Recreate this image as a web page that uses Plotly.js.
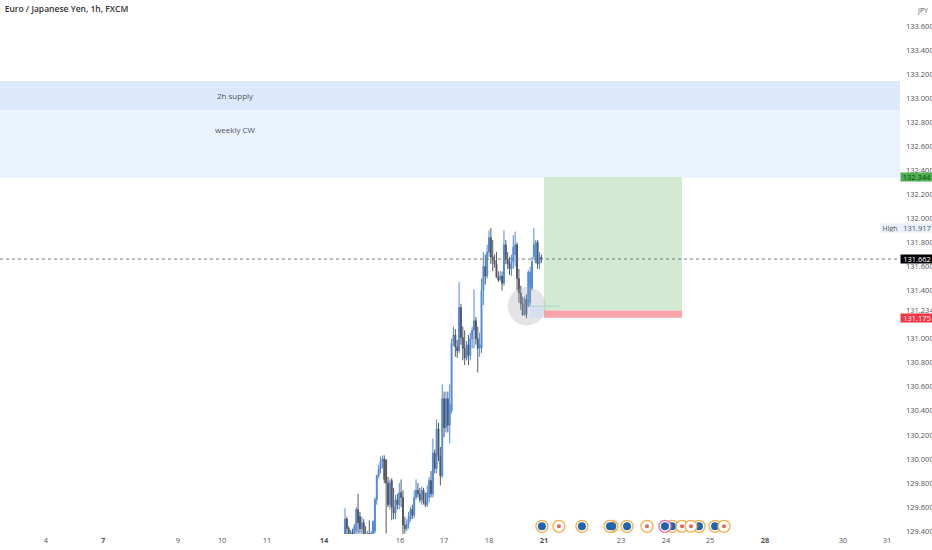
<!DOCTYPE html>
<html>
<head>
<meta charset="utf-8">
<script src="https://cdn.plot.ly/plotly-3.0.1.min.js"></script>
<style>html,body{margin:0;padding:0;background:#fff}#chart{width:932px;height:550px}</style>
</head>
<body>
<div id="chart"></div>
<script>
// Hourly bars, numbered from the first visible one
const opens = [129.36,129.50,129.42,129.37,129.39,129.36,129.40,129.58,129.52,129.42,129.47,129.38,129.37,129.38,129.36,129.38,129.40,129.66,129.86,129.92,129.98,130.00,129.99,129.80,129.62,129.82,129.60,129.55,129.66,129.62,129.72,129.68,129.45,129.42,129.46,129.50,129.58,129.53,129.68,129.74,129.71,129.66,129.74,129.64,129.62,129.68,129.82,129.71,130.05,129.92,130.25,130.02,129.86,130.50,130.26,130.50,130.28,130.40,130.96,131.03,130.93,130.90,131.26,131.01,130.92,130.84,130.95,130.86,131.00,131.07,131.15,131.00,130.92,130.92,131.40,131.60,131.52,131.72,131.84,131.68,131.65,131.62,131.51,131.49,131.52,131.46,131.78,131.66,131.62,131.58,131.64,131.70,131.78,131.50,131.38,131.29,131.20,131.33,131.27,131.30,131.42,131.68,131.63,131.80,131.62,131.68];
const highs = [129.59,129.52,129.44,129.41,129.42,129.46,129.60,129.71,129.56,129.52,129.50,129.44,129.40,129.49,129.40,129.49,129.68,129.87,129.95,130.02,130.03,130.03,130.00,129.85,129.83,129.84,129.76,129.70,129.71,129.80,129.83,129.74,129.52,129.50,129.56,129.60,129.62,129.74,129.83,129.80,129.76,129.77,129.76,129.72,129.78,129.85,129.90,130.17,130.08,130.33,130.30,130.10,130.62,130.56,130.56,130.56,130.62,131.00,131.10,131.08,130.99,131.47,131.29,131.10,131.07,130.98,131.03,131.05,131.10,131.41,131.18,131.10,131.05,131.50,131.72,131.70,131.78,131.90,131.92,131.82,131.70,131.72,131.56,131.56,131.56,131.90,131.82,131.72,131.68,131.70,131.86,131.89,131.80,131.58,131.44,131.35,131.35,131.37,131.57,131.60,131.68,131.92,131.82,131.82,131.72,131.70];
const lows = [129.30,129.34,129.30,129.30,129.30,129.31,129.33,129.38,129.38,129.36,129.34,129.33,129.33,129.33,129.33,129.34,129.38,129.62,129.84,129.88,129.92,129.80,129.38,129.60,129.58,129.49,129.50,129.50,129.58,129.58,129.60,129.37,129.38,129.40,129.42,129.48,129.50,129.51,129.66,129.68,129.64,129.62,129.62,129.60,129.60,129.64,129.68,129.68,129.88,129.88,129.98,129.78,129.84,130.18,130.22,130.22,130.13,130.38,130.94,130.85,130.84,130.88,130.95,130.82,130.78,130.82,130.78,130.82,130.92,130.92,130.95,130.72,130.85,130.88,131.28,131.45,131.50,131.68,131.62,131.56,131.59,131.51,131.47,131.48,131.40,131.44,131.62,131.58,131.53,131.52,131.58,131.60,131.40,131.30,131.24,131.19,131.19,131.17,131.26,131.27,131.40,131.66,131.63,131.58,131.58,131.63];
const closes = [129.50,129.42,129.37,129.39,129.36,129.44,129.58,129.47,129.42,129.47,129.38,129.37,129.38,129.36,129.38,129.48,129.66,129.86,129.92,129.98,130.00,129.83,129.80,129.62,129.80,129.60,129.55,129.66,129.62,129.72,129.68,129.45,129.42,129.46,129.52,129.58,129.53,129.68,129.74,129.71,129.66,129.74,129.64,129.62,129.72,129.82,129.71,130.05,129.92,130.25,130.02,129.86,130.50,130.26,130.50,130.28,130.45,130.96,131.03,130.93,130.90,131.26,131.01,130.92,130.84,130.95,130.86,131.00,131.07,131.15,131.00,130.92,130.95,131.40,131.60,131.52,131.72,131.84,131.68,131.65,131.62,131.51,131.49,131.52,131.46,131.78,131.66,131.62,131.58,131.64,131.76,131.78,131.50,131.38,131.29,131.20,131.33,131.20,131.55,131.55,131.64,131.78,131.80,131.62,131.68,131.66];
const barIndex = opens.map((_, i) => i);

const dayTicks = [-184,-160,-129.4,-89.3,-65.8,-41.7,-11.2,29.4,52.9,77,106.4,147.6,171.7,195.2,224.6,266.3,289.8];
const dayLabels = ['3','4','<b>7</b>','9','10','11','<b>14</b>','16','17','18','<b>21</b>','23','24','25','<b>28</b>','30','31'];

const priceTicks = [133.8,133.6,133.4,133.2,133.0,132.8,132.6,132.4,132.2,132.0,131.8,131.6,131.4,131.234,131.0,130.8,130.6,130.4,130.2,130.0,129.8,129.6,129.4];
const priceLabels = priceTicks.map(v => v.toFixed(3));

const eventRow = 129.44;
const blueEvents = [105.3,126.7,142.8,141.7,150.8,174.9,189.3,197.9];
const pinkEvents = [171.1];
const redEvents = [114.4,161.5,180.2,185,202.7];

const lastPrice = 131.662, highPrice = 131.917;
const target = 132.344, entry = 131.234, stop = 131.175;

const ringTrace = (xs, ring, core, coreSize) => [
  {type:'scatter',mode:'markers',x:xs,y:xs.map(()=>eventRow),hoverinfo:'skip',showlegend:false,
   marker:{size:12,color:'#ffffff',line:{color:ring,width:1.3}}},
  {type:'scatter',mode:'markers',x:xs,y:xs.map(()=>eventRow),hoverinfo:'skip',showlegend:false,
   marker:{size:coreSize,color:core}}
];

const traces = [
  {type:'candlestick',x:barIndex,open:opens,high:highs,low:lows,close:closes,showlegend:false,hoverinfo:'skip',
   whiskerwidth:0,
   increasing:{line:{color:'#4f8ade',width:1},fillcolor:'#3f7fd8'},
   decreasing:{line:{color:'#55585e',width:1},fillcolor:'#2c3138'}},
  ...ringTrace(blueEvents,'#f3b04a','#1f66ae',8),
  ...ringTrace(redEvents,'#f3b04a','#e8605a',4),
  ...ringTrace(pinkEvents,'#e56fa8','#1f66ae',8)
];

const rect = (x0,x1,y0,y1,fill,layer) => ({type:'rect',xref:'x',yref:'y',x0,x1,y0,y1,fillcolor:fill,line:{width:0},layer:layer||'below'});
const full = [-184.49,296.79];

const shapes = [
  rect(full[0],full[1],133.143,132.90,'#dce9fc'),
  rect(full[0],full[1],132.90,132.336,'#e9f2fe'),
  rect(106.4,180.2,target,entry,'#d2ead1'),
  rect(106.4,180.2,entry,stop,'#f8a3a9'),
  {type:'circle',xref:'x',yref:'y',x0:87,x1:107.4,y0:131.11,y1:131.43,fillcolor:'rgba(165,170,178,0.32)',line:{width:0},layer:'above'},
  rect(99,106.4,131.27,stop,'rgba(190,215,250,0.35)','above'),
  {type:'line',xref:'x',yref:'y',x0:99,x1:115,y0:131.27,y1:131.27,line:{color:'#a9d8c8',width:1},layer:'above'},
  {type:'line',xref:'x',yref:'y',x0:full[0],x1:full[1],y0:lastPrice,y1:lastPrice,line:{color:'#777777',width:1,dash:'dot'},layer:'above'},
  {type:'rect',xref:'paper',yref:'y',x0:1,x1:1.0356,y0:highPrice-0.03,y1:highPrice+0.03,fillcolor:'#e8f0fc',line:{width:0},layer:'below'}
];

const tag = (y,text,bg,fg) => ({xref:'paper',yref:'y',x:1,xanchor:'left',y,yanchor:'middle',text,showarrow:false,
  width:32,height:8,align:'center',bgcolor:bg,borderpad:0,font:{family:'Open Sans',size:7.5,color:fg}});

const annotations = [
  {xref:'x',yref:'y',x:-58.7,y:133.026,text:'2h supply',showarrow:false,font:{family:'Open Sans',size:8,color:'#555'}},
  {xref:'x',yref:'y',x:-58.7,y:132.743,text:'weekly CW',showarrow:false,font:{family:'Open Sans',size:8,color:'#555'}},
  tag(target,'132.344','#4caf50','#14401a'),
  tag(stop,'131.175','#f23645','#ffffff'),
  tag(lastPrice,'131.662','#000000','#ffffff'),
  tag(highPrice,'131.917','#e8f0fc','#555555'),
  {xref:'paper',yref:'y',x:1,xanchor:'right',y:highPrice,yanchor:'middle',text:'High',showarrow:false,width:18,height:8,align:'center',bgcolor:'#e8f0fc',borderpad:0,font:{family:'Open Sans',size:7,color:'#555'}},
  {xref:'paper',yref:'y',x:1.0165,xanchor:'left',y:133.73,yanchor:'middle',text:'JPY',showarrow:false,font:{family:'Open Sans',size:7,color:'#555'},borderpad:1}
];

const layout = {
  width:932,height:550,autosize:false,
  margin:{l:0,r:32,t:0,b:16,pad:0},
  paper_bgcolor:'#ffffff',plot_bgcolor:'#ffffff',
  title:{text:'Euro / Japanese Yen, 1h, FXCM',xref:'container',yref:'container',x:0.005,xanchor:'left',y:0.984,yanchor:'middle',
    font:{family:'Open Sans',size:8.5,color:'#333',weight:600}},
  xaxis:{type:'linear',range:full,tickmode:'array',tickvals:dayTicks,ticktext:dayLabels,showgrid:false,zeroline:false,showline:false,ticks:'',
    tickfont:{family:'Open Sans',size:7.5,color:'#555'},rangeslider:{visible:false},fixedrange:true},
  yaxis:{type:'linear',side:'right',range:[129.376,133.816],tickmode:'array',tickvals:priceTicks,ticktext:priceLabels,showgrid:false,zeroline:false,showline:false,ticks:'',
    ticklabelstandoff:5,tickfont:{family:'Open Sans',size:7.5,color:'#555'},fixedrange:true},
  shapes,annotations,showlegend:false
};

Plotly.newPlot('chart',traces,layout,{displayModeBar:false,staticPlot:true});
</script>
</body>
</html>
